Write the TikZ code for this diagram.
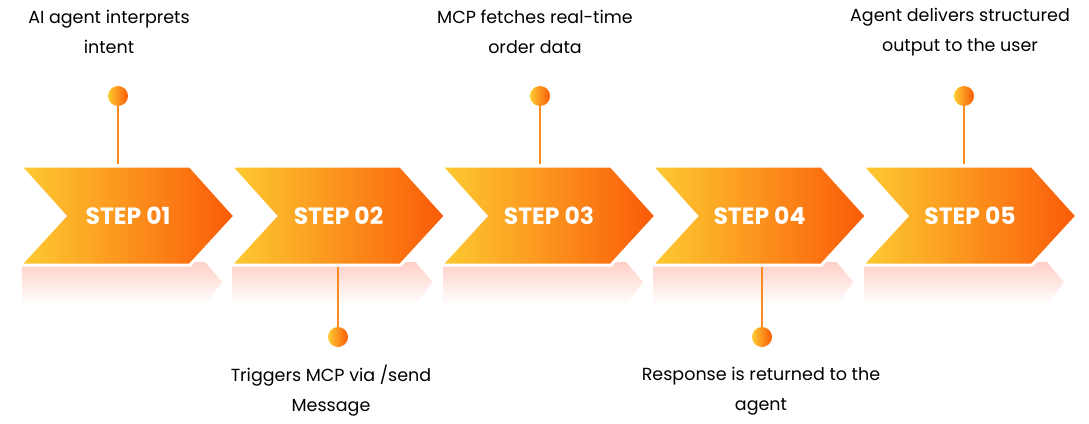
\documentclass[tikz,border=0pt]{standalone}
\usepackage{fontspec}
\setmainfont{Poppins}
\definecolor{cy}{HTML}{FDCB32}
\definecolor{co}{HTML}{FA5A08}
\definecolor{cm}{HTML}{F98E1E}
\begin{document}
\begin{tikzpicture}[x=1pt,y=-1pt,
  lbl/.style={align=center,font=\fontsize{17.5}{30}\selectfont,text=black},
  stp/.style={font=\fontsize{23.5}{26}\selectfont\bfseries,text=white},
  pin/.style={circle,inner sep=0pt,minimum size=20pt,left color=cy,right color=co},
  stem/.style={draw=cm,line width=2pt}]
\useasboundingbox (0,0) rectangle (1089,423);
\foreach \i/\t in {0/01,1/02,2/03,3/04,4/05}{
  \begin{scope}[xshift=\i*210.5]
    \shade[top color=orange!30!red!22,bottom color=white]
      (22,262) -- (205,262) -- (222,282) -- (205,305) -- (22,305) -- cycle;
    \shade[left color=cy,right color=co,draw=white,line width=3pt]
      (20,166) -- (190,166) -- (235,216) -- (190,265) -- (20,265) -- (65,216) -- cycle;
    \node[stp] (s\i) at (128,216) {STEP \t};
  \end{scope}}
\node[pin] (p1) at (118,96) {};
\coordinate (c1) at (118,164);
\draw[stem] (p1) -- (c1);
\node[pin] (p2) at (338,337) {};
\coordinate (c2) at (338,267);
\draw[stem] (c2) -- (p2);
\node[pin] (p3) at (540,96) {};
\coordinate (c3) at (540,164);
\draw[stem] (p3) -- (c3);
\node[pin] (p4) at (762,337) {};
\coordinate (c4) at (762,267);
\draw[stem] (c4) -- (p4);
\node[pin] (p5) at (964,96) {};
\coordinate (c5) at (964,164);
\draw[stem] (p5) -- (c5);
\node[lbl] (l1) at (109,32) {AI agent interprets\\intent};
\node[lbl] (l2) at (331,391) {Triggers MCP via /send\\Message};
\node[lbl] (l3) at (535,32) {MCP fetches real-time\\order data};
\node[lbl] (l4) at (761,391) {Response is returned to the\\agent};
\node[lbl] (l5) at (960,32) {Agent delivers structured\\output to the user};
\end{tikzpicture}
\end{document}
